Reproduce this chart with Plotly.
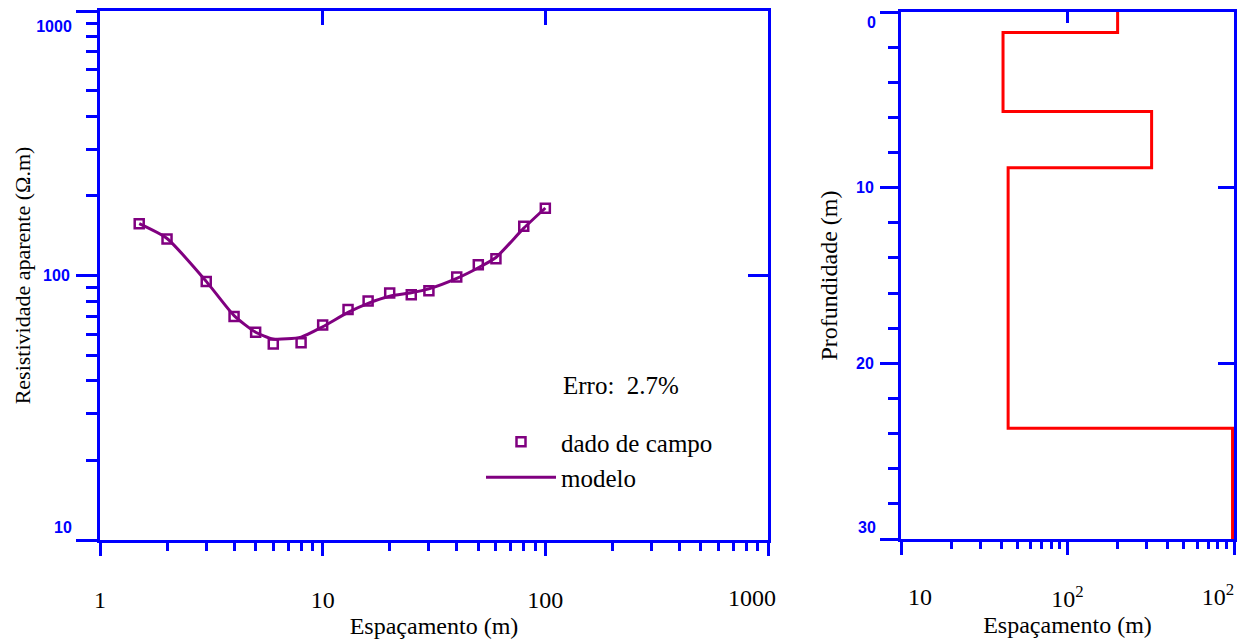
import plotly.graph_objects as go

# ---------------- data ----------------
espacamento = [1.5, 2, 3, 4, 5, 6, 8, 10, 13, 16, 20, 25, 30, 40, 50, 60, 80, 100]
rho_campo = [157, 137.5, 95, 70, 61, 55.1, 55.7, 65, 74.4, 80.1, 85.8, 84.5, 87.5,
             98.6, 109.7, 115.6, 153.5, 179.5]
rho_modelo = [157, 138, 95, 70.5, 61, 57.5, 58.5, 64, 72.5, 78.5, 83.5, 86, 89,
              97.5, 107, 117, 151, 180]

camada_rho = [200, 41, 320, 44, 980]          # layer resistivities
camada_topo = [0, 1.16, 5.67, 8.86, 23.7]     # layer tops (m)
prof_max = 30
erro_txt = "Erro:\u00a0 2.7%"

x_ticks_esq = [1, 10, 100, 1000]
x_text_esq = ["1", "10", "100", "1000"]
y_ticks_esq = [10, 100, 1000]
y_text_esq = ["10", "100", "1000"]
x_ticks_dir = [10, 100, 1000]
x_text_dir = ["10", "10<sup>2</sup>", "10<sup>2</sup>"]
y_ticks_dir = [0, 10, 20, 30]
y_text_dir = ["0", "10", "20", "30"]

# ---------------- style ----------------
W, H = 1240, 643
BLUE = "#0000FF"
PURPLE = "#800080"
RED = "#FF0000"
SERIF = "Liberation Serif, Times New Roman, serif"
SANS = "Liberation Sans, Arial, sans-serif"


def px_x(p):
    return p / W


def px_y(p):
    return 1 - p / H


dom_xL = [px_x(100), px_x(768)]
dom_yL = [px_y(540), px_y(11)]
dom_xR = [px_x(901), px_x(1234)]
dom_yR = [px_y(539), px_y(12)]

minor_log = [m * d for d in (1, 10, 100) for m in range(2, 10)]
minor_dep = [v for v in range(2, prof_max, 2) if v % 10 != 0]

# step profile from layers
step_x, step_y = [], []
for i, r in enumerate(camada_rho):
    base = camada_topo[i + 1] if i + 1 < len(camada_topo) else prof_max
    step_x += [r, r]
    step_y += [camada_topo[i], base]

fig = go.Figure()
fig.add_trace(go.Scatter(
    x=espacamento, y=rho_campo, mode="markers", name="dado de campo",
    marker=dict(symbol="square-open", size=9, color=PURPLE, line=dict(width=2.5, color=PURPLE)),
    xaxis="x", yaxis="y", legendgroup="a"))
fig.add_trace(go.Scatter(
    x=espacamento, y=rho_modelo, mode="lines", name="modelo",
    line=dict(color=PURPLE, width=3, shape="spline", smoothing=0.6),
    xaxis="x", yaxis="y", legendgroup="b"))
fig.add_trace(go.Scatter(
    x=step_x, y=step_y, mode="lines", showlegend=False,
    line=dict(color=RED, width=3), xaxis="x2", yaxis="y2"))

# empty traces so the overlay (tick / label) axes are drawn
for xa, ya in [("x3", "y"), ("x4", "y"), ("x", "y3"), ("x", "y4"), ("x", "y5"),
               ("x5", "y2"), ("x6", "y2"), ("x7", "y2"), ("x2", "y6"), ("x2", "y7"), ("x2", "y8")]:
    fig.add_trace(go.Scatter(x=[], y=[], xaxis=xa, yaxis=ya, showlegend=False,
                             hoverinfo="skip", mode="markers"))

tick_font_x = dict(family=SERIF, size=24, color="black")
tick_font_y = dict(family=SANS, size=16, color=BLUE)
title_font_x = dict(family=SERIF, size=24, color="black")
title_font_y = dict(family=SERIF, size=22, color="black")
title_font_y2 = dict(family=SERIF, size=24, color="black")

common = dict(showgrid=False, zeroline=False, tickcolor=BLUE, tickwidth=3, automargin=False)


def main_axis(**kw):
    d = dict(common, showline=True, linecolor=BLUE, linewidth=3, mirror=True, ticks="outside",
             ticklabeloverflow="allow")
    d.update(kw)
    return d


def overlay(base, anchor, side, rng, typ, tickvals, ticktext=None, ticks="", ticklen=0,
            shift=0, font=None, standoff=0, show_labels=False):
    d = dict(common, overlaying=base, anchor=anchor, side=side, range=rng, type=typ,
             showline=False, tickmode="array", tickvals=tickvals, ticks=ticks, ticklen=ticklen,
             showticklabels=show_labels)
    if show_labels:
        d.update(ticktext=ticktext, tickfont=font, ticklabelshift=shift,
                 ticklabelstandoff=standoff, tickcolor="rgba(0,0,0,0)",
                 ticklabeloverflow="allow")
    return d


def b(t):
    return "<b>" + t + "</b>"


XSTAND = 23
YSTAND = 3

layout = dict(
    width=W, height=H, autosize=False,
    margin=dict(l=0, r=0, t=0, b=0, autoexpand=False),
    paper_bgcolor="white", plot_bgcolor="white",
    showlegend=True,
    legend=dict(x=px_x(481), y=px_y(419), xanchor="left", yanchor="top",
                font=dict(family=SERIF, size=25, color="black"),
                bgcolor="rgba(0,0,0,0)", itemwidth=70, tracegroupgap=0,
                traceorder="grouped"),
    # ---- left panel ----
    xaxis=main_axis(type="log", range=[0, 3], domain=dom_xL, anchor="y",
                    tickmode="array", tickvals=x_ticks_esq,
                    ticktext=x_text_esq[:3] + [" "], ticklen=13,
                    tickfont=tick_font_x, ticklabelstandoff=XSTAND,
                    minor=dict(tickmode="array", tickvals=minor_log, ticks="outside",
                               ticklen=8, tickwidth=3, tickcolor=BLUE),
                    title=dict(text="Espaçamento (m)", font=title_font_x, standoff=6)),
    yaxis=main_axis(type="log", range=[1, 3], domain=dom_yL, anchor="x",
                    tickmode="array", tickvals=y_ticks_esq,
                    ticktext=[" ", b(y_text_esq[1]), " "], ticklen=21,
                    tickfont=tick_font_y, ticklabelstandoff=YSTAND,
                    minor=dict(tickmode="array", tickvals=minor_log[8:], ticks="outside",
                               ticklen=11, tickwidth=3, tickcolor=BLUE),
                    title=dict(text="Resistividade aparente (Ω.m)", font=title_font_y, standoff=7)),
    xaxis3=overlay("x", "y", "bottom", [0, 3], "log", [x_ticks_esq[3]],
                   [x_text_esq[3]], ticks="outside", ticklen=13, shift=-16,
                   font=tick_font_x, standoff=XSTAND, show_labels=True),
    xaxis4=overlay("x", "y", "top", [0, 3], "log", x_ticks_esq[1:3],
                   ticks="inside", ticklen=14),
    yaxis3=overlay("y", "x", "left", [1, 3], "log", [y_ticks_esq[0]],
                   [b(y_text_esq[0])], ticks="outside", ticklen=21, shift=-13,
                   font=tick_font_y, standoff=YSTAND, show_labels=True),
    yaxis4=overlay("y", "x", "left", [1, 3], "log", [y_ticks_esq[2]],
                   [b(y_text_esq[2])], ticks="outside", ticklen=21, shift=15,
                   font=tick_font_y, standoff=YSTAND, show_labels=True),
    yaxis5=overlay("y", "x", "right", [1, 3], "log", [y_ticks_esq[1]],
                   ticks="inside", ticklen=20),
    # ---- right panel ----
    xaxis2=main_axis(type="log", range=[1, 3], domain=dom_xR, anchor="y2",
                     tickmode="array", tickvals=x_ticks_dir,
                     ticktext=[" ", x_text_dir[1], " "], ticklen=13,
                     tickfont=tick_font_x, ticklabelstandoff=XSTAND,
                     minor=dict(tickmode="array", tickvals=minor_log[8:], ticks="outside",
                                ticklen=7, tickwidth=3, tickcolor=BLUE),
                     title=dict(text="Espaçamento (m)", font=title_font_x, standoff=6)),
    yaxis2=main_axis(range=[prof_max, 0], domain=dom_yR, anchor="x2",
                     tickmode="array", tickvals=y_ticks_dir,
                     ticktext=[" ", b(y_text_dir[1]), b(y_text_dir[2]), " "],
                     ticklen=18, tickfont=tick_font_y, ticklabelstandoff=YSTAND,
                     minor=dict(tickmode="array", tickvals=minor_dep, ticks="outside",
                                ticklen=10, tickwidth=3, tickcolor=BLUE),
                     title=dict(text="Profundidade (m)", font=title_font_y2, standoff=12)),
    xaxis5=overlay("x2", "y2", "bottom", [1, 3], "log", [x_ticks_dir[0]],
                   [x_text_dir[0]], ticks="outside", ticklen=13, shift=19,
                   font=tick_font_x, standoff=XSTAND, show_labels=True),
    xaxis6=overlay("x2", "y2", "bottom", [1, 3], "log", [x_ticks_dir[2]],
                   [x_text_dir[2]], ticks="outside", ticklen=13, shift=-16,
                   font=tick_font_x, standoff=XSTAND, show_labels=True),
    xaxis7=overlay("x2", "y2", "top", [1, 3], "log", [x_ticks_dir[1]],
                   ticks="inside", ticklen=11),
    yaxis6=overlay("y2", "x2", "left", [prof_max, 0], "linear", [y_ticks_dir[0]],
                   [b(y_text_dir[0])], ticks="outside", ticklen=18, shift=-10,
                   font=tick_font_y, standoff=YSTAND, show_labels=True),
    yaxis7=overlay("y2", "x2", "left", [prof_max, 0], "linear", [y_ticks_dir[3]],
                   [b(y_text_dir[3])], ticks="outside", ticklen=18, shift=12,
                   font=tick_font_y, standoff=YSTAND, show_labels=True),
    yaxis8=overlay("y2", "x2", "right", [prof_max, 0], "linear", y_ticks_dir[1:3],
                   ticks="inside", ticklen=16),
    annotations=[dict(text=erro_txt, xref="paper", yref="paper", x=px_x(621), y=px_y(385),
                      xanchor="center", yanchor="middle", showarrow=False,
                      font=dict(family=SERIF, size=25, color="black"))],
)

fig.update_layout(**layout)
fig.write_html("out.html", config={"displayModeBar": False},
               post_script="document.body.style.margin='0';document.body.style.padding='0';")
